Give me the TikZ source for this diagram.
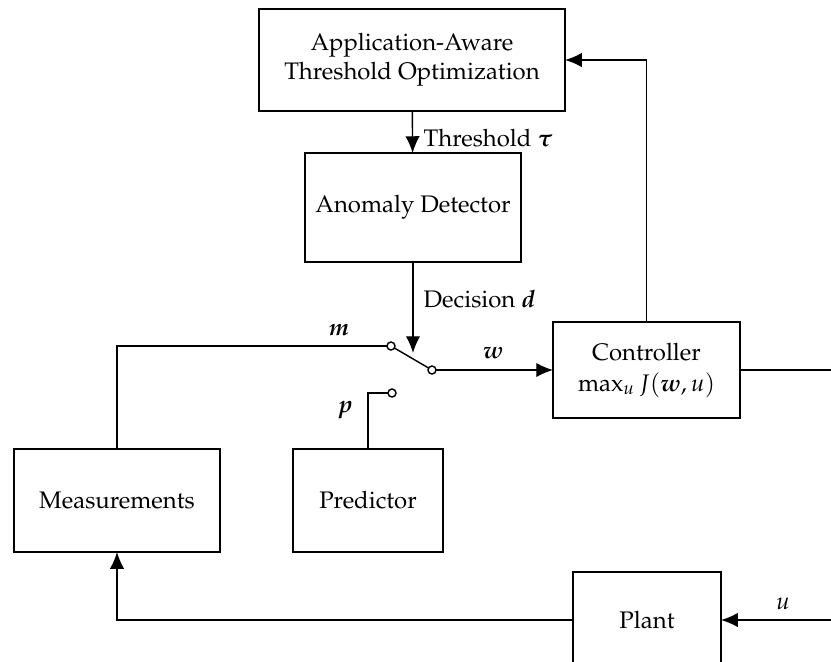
\documentclass[tikz,border=0pt]{standalone}
\usepackage[T1]{fontenc}
\usepackage{mathpazo}
\usepackage{amsmath}
\usepackage{bm}
\usetikzlibrary{arrows.meta}
\def\u{0.418pt}
\tikzset{
  every picture/.style={line width=0.6pt},
  blk/.style={draw, rectangle, fill=white, align=center, outer sep=0pt, inner sep=0pt, font=\normalsize},
  term/.style={draw, circle, fill=white, inner sep=0pt, minimum size=8*\u, outer sep=0pt},
  lbl/.style={inner sep=0pt, font=\normalsize},
  sig/.style={-{Latex[length=7pt,width=6pt]}},
}
\begin{document}
\begin{tikzpicture}[x=\u, y=-\u]
\useasboundingbox (0,0) rectangle (831,661);
\begin{scope}
\clip (0,0) rectangle (831,661);

% blocks
\node[blk, minimum width=306*\u, minimum height=102*\u] (opt) at (412,60)
  {Application-Aware\\Threshold Optimization};
\node[blk, minimum width=216*\u, minimum height=109*\u] (anom) at (413,207.5)
  {Anomaly Detector};
\node[blk, minimum width=187*\u, minimum height=96*\u] (ctrl) at (646.5,370)
  {Controller\\[1pt]$\max_{u} J(\bm{w},u)$};
\node[blk, minimum width=206*\u, minimum height=103*\u] (meas) at (117,500.5)
  {Measurements};
\node[blk, minimum width=150*\u, minimum height=103*\u] (pred) at (368,500.5)
  {Predictor};
\node[blk, minimum width=148*\u, minimum height=96*\u] (plant) at (647,620)
  {Plant};

% switch terminals
\node[term] (sm) at (391,346) {};
\node[term] (sw) at (432,370) {};
\node[term] (sp) at (392,393) {};

% free ends
\coordinate (dtip) at (413,353);
\coordinate (cout) at (831,370);
\coordinate (uin) at (831,620);

% connectors
\draw[sig] (opt) -- (anom);
\draw[sig] (anom.south) -- (dtip);
\draw (sm) -- (sw);
\draw (sm.west) -| (meas.north);
\draw (sp.west) -| (pred.north);
\draw[sig] (sw.east) -- (ctrl.west);
\draw[sig] (ctrl.north) |- (opt.east);
\draw (ctrl.east) -- (cout);
\draw[sig] (uin) -- (plant.east);
\draw[sig] (plant.west) -| (meas.south);

% labels
\node[lbl, anchor=west] (thr) at (423,138) {Threshold $\bm{\tau}$};
\node[lbl, anchor=west] (dec) at (423,299) {Decision $\bm{d}$};
\node[lbl] (lm) at (339,330) {$\bm{m}$};
\node[lbl] (lw) at (493,353) {$\bm{w}$};
\node[lbl] (lp) at (345,410) {$\bm{p}$};
\node[lbl] (lu) at (783,604) {$u$};
\end{scope}
\end{tikzpicture}
\end{document}
